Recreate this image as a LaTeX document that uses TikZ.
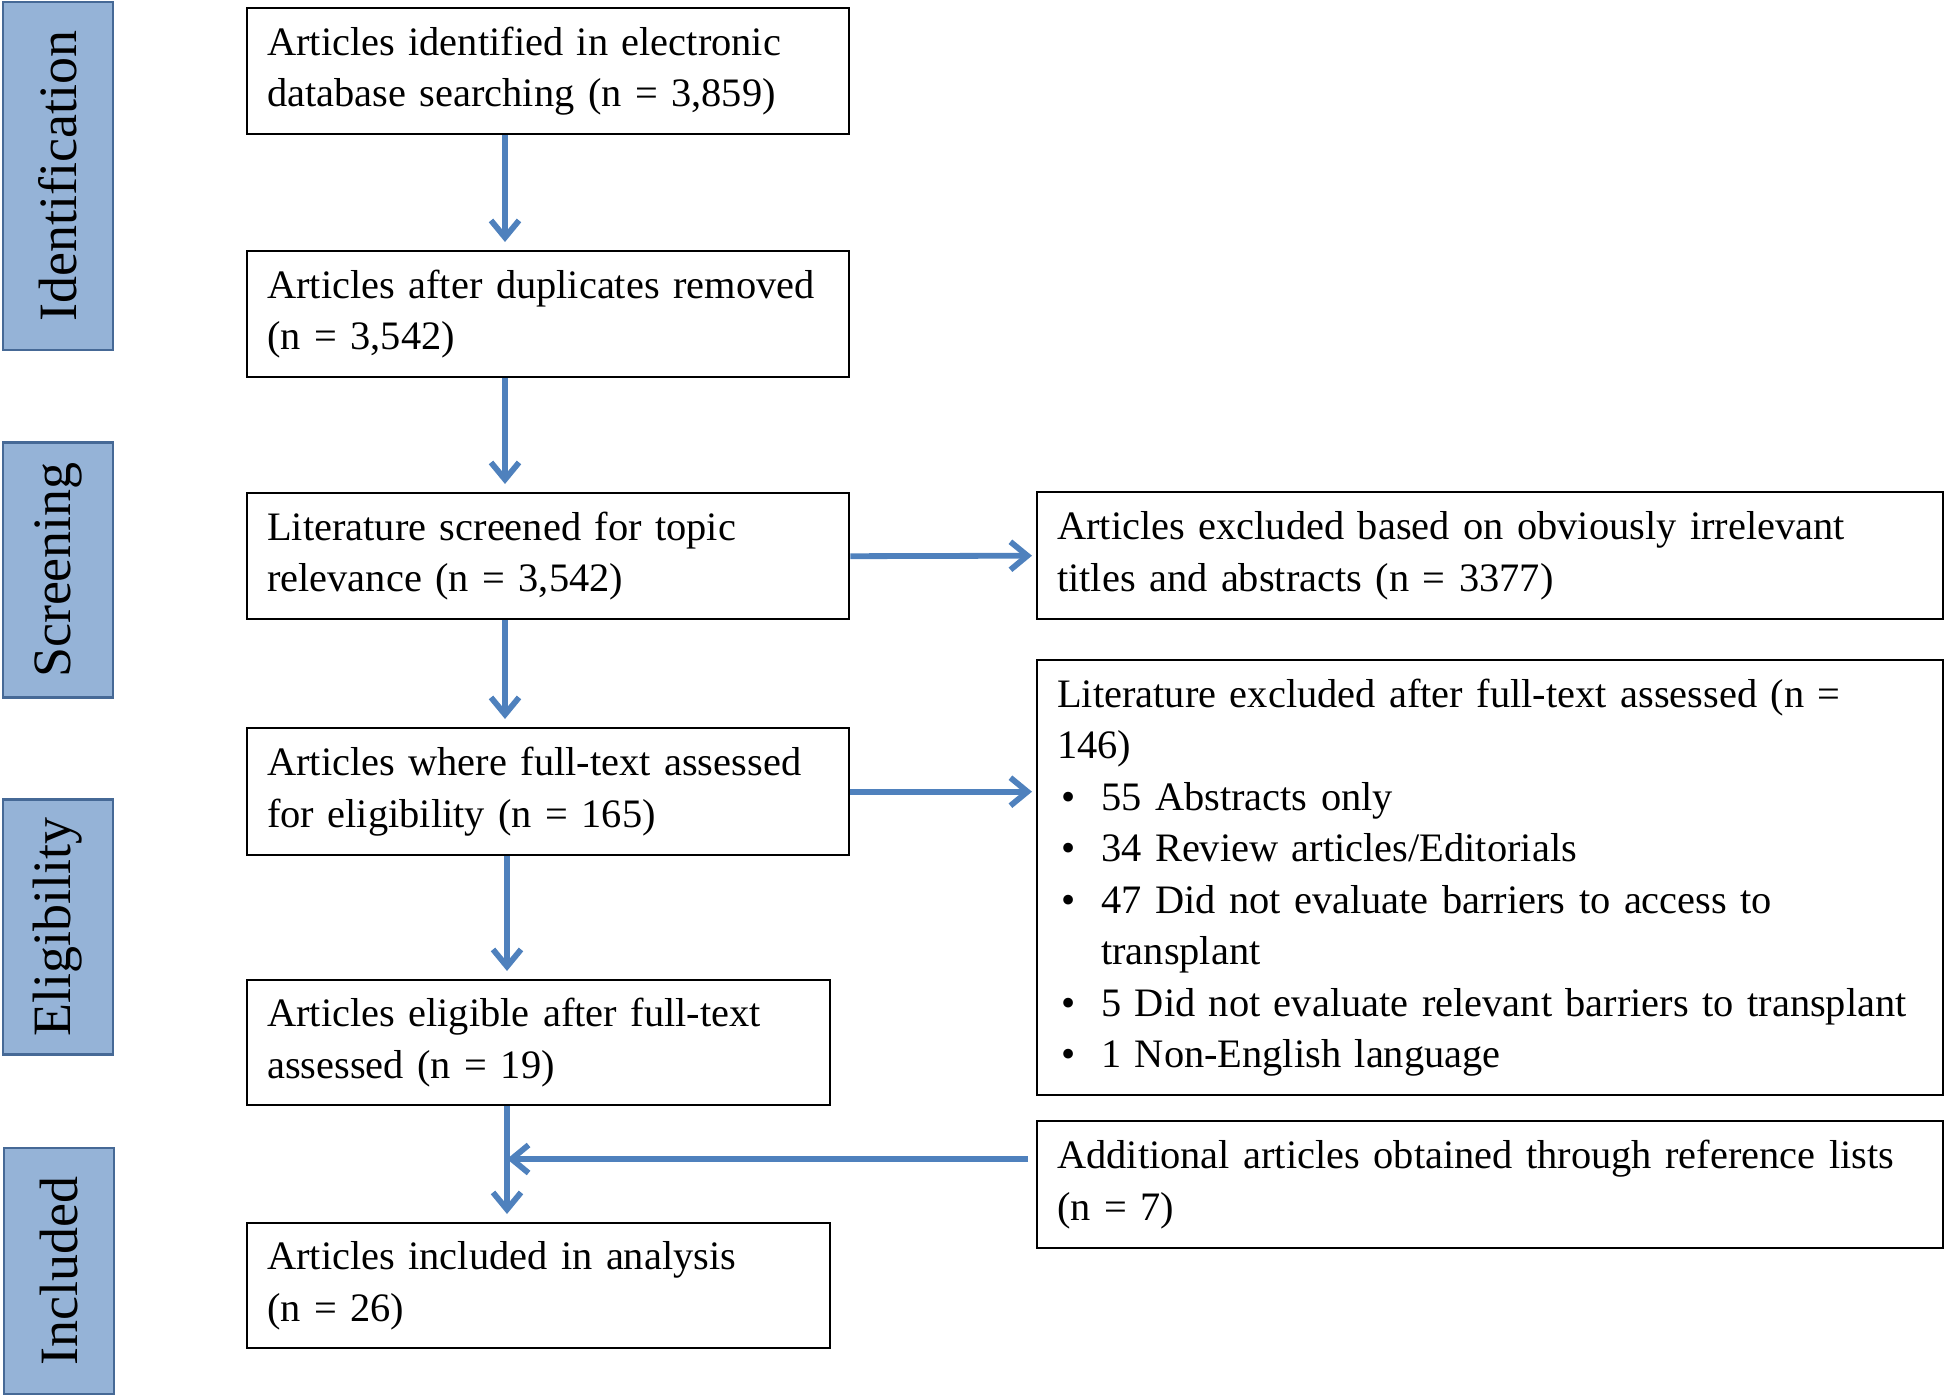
\documentclass[tikz,border=0pt]{standalone}
\usepackage{fontspec}
\setmainfont{Liberation Serif}
\usetikzlibrary{arrows.meta}

\definecolor{stagefill}{RGB}{149,179,215}
\definecolor{stageline}{RGB}{70,105,150}
\definecolor{arrowblue}{RGB}{79,129,189}

\newcommand{\bitem}{\makebox[22pt][l]{\hspace{2pt}\textbullet}}

\tikzset{
  stagebox/.style={draw=stageline, fill=stagefill, line width=1.2pt, rotate=90,
    minimum height=55pt, inner sep=0pt, font=\fontsize{27}{31}\selectfont},
  flowbox/.style={draw, line width=1.2pt, anchor=north west, align=left,
    inner xsep=10pt, inner ysep=0pt, text width=#1,
    font=\fontsize{20.2}{25.75}\selectfont},
  flowarrow/.style={draw=arrowblue, line width=2.9pt,
    -{Straight Barb[length=8.5pt,width=14pt]}}
}

\begin{document}
\begin{tikzpicture}[x=0.5pt,y=-0.5pt]
\useasboundingbox (0,0) rectangle (1950,1396);

% stages
\node[stagebox, minimum width=174pt] (ident) at (58,176) {Identification};
\node[stagebox, minimum width=127.5pt] (screen) at (58,570) {Screening};
\node[stagebox, minimum width=127.5pt] (elig) at (58,927) {Eligibility};
\node[stagebox, minimum width=123pt] (incl) at (59,1271) {Included};

% main column
\node[flowbox=281pt, minimum height=63pt] (b1) at (246,7)
  {Articles identified in electronic\\database searching (n = 3,859)};
\node[flowbox=281pt, minimum height=63pt] (b2) at (246,250)
  {Articles after duplicates removed\\(n = 3,542)};
\node[flowbox=281pt, minimum height=63pt] (b3) at (246,492)
  {Literature screened for topic\\relevance (n = 3,542)};
\node[flowbox=281pt, minimum height=63.5pt] (b4) at (246,727)
  {Articles where full-text assessed\\for eligibility (n = 165)};
\node[flowbox=271.5pt, minimum height=62.5pt] (b5) at (246,979)
  {Articles eligible after full-text\\assessed (n = 19)};
\node[flowbox=271.5pt, minimum height=62.5pt] (b6) at (246,1222)
  {Articles included in analysis\\(n = 26)};

% right column
\node[flowbox=433pt, minimum height=63.5pt] (r1) at (1036,491)
  {Articles excluded based on obviously irrelevant\\titles and abstracts (n = 3377)};
\node[flowbox=433pt, minimum height=217.5pt] (r2) at (1036,659)
  {Literature excluded after full-text assessed (n =\\146)\\
   \bitem 55 Abstracts only\\
   \bitem 34 Review articles/Editorials\\
   \bitem 47 Did not evaluate barriers to access to\\
   \hspace*{22pt}transplant\\
   \bitem 5 Did not evaluate relevant barriers to transplant\\
   \bitem 1 Non-English language};
\node[flowbox=433pt, minimum height=63.5pt] (r3) at (1036,1120)
  {Additional articles obtained through reference lists\\(n = 7)};

% connectors
\draw[flowarrow] ([xshift=129.5pt]b1.south west) -- ([xshift=129.5pt,yshift=4pt]b2.north west);
\draw[flowarrow] ([xshift=129.5pt]b2.south west) -- ([xshift=129.5pt,yshift=4pt]b3.north west);
\draw[flowarrow] ([xshift=129.5pt]b3.south west) -- ([xshift=129.5pt,yshift=4pt]b4.north west);
\draw[flowarrow] ([xshift=130.5pt]b4.south west) -- ([xshift=130.5pt,yshift=4pt]b5.north west);
\draw[flowarrow] ([xshift=130.5pt]b5.south west) -- ([xshift=130.5pt,yshift=4pt]b6.north west);
\draw[flowarrow] (b3.east) -- ([xshift=-2pt]r1.west);
\draw[flowarrow] (b4.east) -- ([xshift=-2pt]b4.east -| r2.west);
\coordinate (feed) at ([xshift=-4pt,yshift=-19.5pt]r3.north west);
\coordinate (join) at ([xshift=130.5pt]b5.south west |- feed);
\draw[flowarrow] (feed) -- (join);

\end{tikzpicture}
\end{document}
